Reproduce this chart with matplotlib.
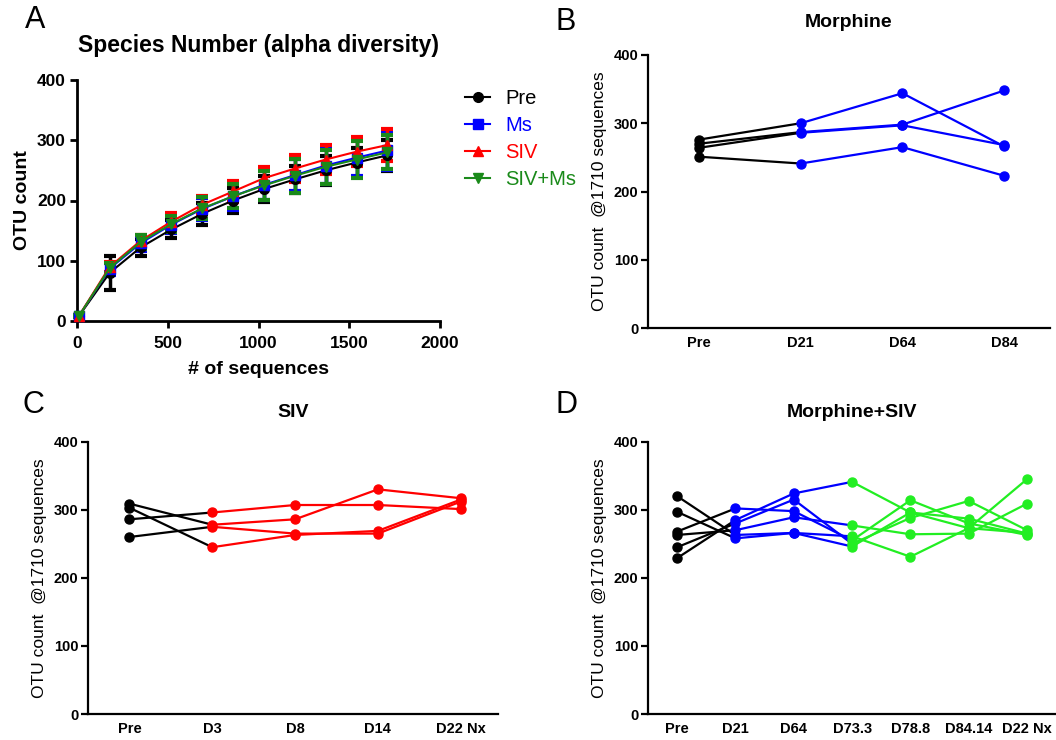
import matplotlib
matplotlib.use("Agg")
import matplotlib.pyplot as plt
from matplotlib.lines import Line2D
import numpy as np

plt.rcParams['font.family'] = ['Liberation Sans', 'DejaVu Sans']

# ---------- Panel A: rarefaction curves ----------
seq_depth = [10, 180, 350, 520, 690, 860, 1030, 1200, 1370, 1540, 1710]
group_names = ["Pre", "Ms", "SIV", "SIV+Ms"]
pre_mean = [8, 80, 122, 152, 178, 200, 219, 235, 250, 263, 275]
ms_mean = [8, 87, 129, 160, 186, 207, 226, 242, 258, 271, 283]
siv_mean = [8, 90, 133, 165, 193, 215, 237, 253, 268, 281, 292]
sivms_mean = [8, 88, 131, 161, 187, 207, 225, 241, 256, 268, 280]
pre_sd = [2, 28, 14, 15, 18, 20, 22, 22, 24, 24, 26]
ms_sd = [2, 10, 12, 14, 18, 22, 25, 27, 30, 30, 32]
siv_sd = [2, 8, 10, 14, 15, 18, 18, 22, 24, 24, 26]
sivms_sd = [2, 8, 12, 14, 18, 20, 24, 28, 28, 30, 28]

# ---------- Panel B: Morphine ----------
morph_days = ["Pre", "D21", "D64", "D84"]
morph_otu = [
    [276, 300, 344, 266],
    [270, 287, 298, 348],
    [264, 286, 297, 268],
    [251, 241, 265, 223],
]

# ---------- Panel C: SIV ----------
siv_days = ["Pre", "D3", "D8", "D14", "D22 Nx"]
siv_otu = [
    [309, 278, 286, 330, 317],
    [286, 296, 307, 307, 301],
    [260, 275, 265, 265, 312],
    [303, 245, 263, 269, 315],
]

# ---------- Panel D: Morphine+SIV ----------
msiv_days = ["Pre", "D21", "D64", "D73.3", "D78.8", "D84.14", "D22 Nx"]
msiv_otu = [
    [268, 302, 298, 255, 314, 280, 263],
    [229, 285, 324, 341, 296, 273, 266],
    [245, 280, 315, 250, 288, 313, 270],
    [263, 270, 289, 277, 264, 265, 309],
    [320, 263, 266, 261, 231, 273, 345],
    [297, 258, 266, 246, 296, 287, 265],
]

BLACK = "#000000"
BLUE = "#0000ff"
RED = "#ff0000"
DKGREEN = "#1a8a1a"
LTGREEN = "#22ee22"

fig = plt.figure(figsize=(10.56, 7.40), dpi=100)


def style_axes(ax, lw=1.6):
    for s in ("top", "right"):
        ax.spines[s].set_visible(False)
    for s in ("left", "bottom"):
        ax.spines[s].set_linewidth(lw)


# Panel A
axA = fig.add_axes([77 / 1056, 1 - 321 / 740, 363 / 1056, 241 / 740])
style_axes(axA, 2.0)
series = [
    (pre_mean, pre_sd, BLACK, "o"),
    (ms_mean, ms_sd, BLUE, "s"),
    (siv_mean, siv_sd, RED, "^"),
    (sivms_mean, sivms_sd, DKGREEN, "v"),
]
for (m, sd, c, mk), name in zip(series, group_names):
    axA.errorbar(seq_depth, m, yerr=sd, color=c, marker=mk, markersize=7,
                 linewidth=1.5, elinewidth=2.5, capsize=4, capthick=3,
                 clip_on=False, zorder=3)
axA.set_xlim(0, 2000)
axA.set_ylim(0, 400)
axA.set_xticks([0, 500, 1000, 1500, 2000])
axA.set_yticks([0, 100, 200, 300, 400])
axA.tick_params(direction="out", length=5, width=2, labelsize=12.5)
axA.tick_params(axis="x", pad=6)
axA.tick_params(axis="y", pad=3)
for lab in axA.get_xticklabels() + axA.get_yticklabels():
    lab.set_fontweight("bold")
axA.set_xlabel("# of sequences", fontsize=14, fontweight="bold", labelpad=7)
axA.set_ylabel("OTU count", fontsize=14, fontweight="bold", labelpad=4)
axA.set_title("Species Number (alpha diversity)", fontsize=16.5,
              fontweight="bold", pad=20)
handles = [Line2D([], [], color=c, marker=mk, markersize=7, linewidth=1.5)
           for (_, _, c, mk) in series]
leg = fig.legend(handles, group_names, loc="upper left",
                 bbox_to_anchor=(465 / 1056, 1 - 89 / 740),
                 bbox_transform=fig.transFigure, frameon=False,
                 fontsize=14.5, handlelength=1.25, borderpad=0,
                 borderaxespad=0, labelspacing=0.4, handletextpad=0.75)
for txt, (_, _, c, _) in zip(leg.get_texts(), series):
    txt.set_color(c)
fig.text(25 / 1056, 1 - 20 / 740, "A", fontsize=22, va="center", ha="left")


def paired_panel(ax, days, data, phases, title, title_pad):
    """phases: list of (start, end, color) index ranges for segment colouring."""
    x = np.arange(len(days))
    for row in data:
        for (a, b, c) in phases:
            ax.plot(x[a:b + 1], row[a:b + 1], color=c, linewidth=1.6, zorder=2)
    # each time point takes the colour of the latest phase that begins at or before it
    point_colors = []
    for i in range(len(days)):
        col = phases[0][2]
        for (a, b, c) in phases:
            if a <= i:
                col = c
        point_colors.append(col)
    for row in data:
        for i in range(len(days)):
            ax.plot(x[i], row[i], linestyle="none", marker="o",
                    markersize=6.5, color=point_colors[i], zorder=3)
    ax.set_xlim(-0.5, len(days) - 0.55)
    ax.set_ylim(0, 400)
    ax.set_yticks([0, 100, 200, 300, 400])
    ax.set_xticks(x)
    ax.set_xticklabels(days)
    style_axes(ax, 1.6)
    ax.tick_params(axis="y", direction="out", length=5, width=1.6,
                   labelsize=10.5, pad=2)
    ax.tick_params(axis="x", length=0, labelsize=10.5, pad=6)
    for lab in ax.get_xticklabels() + ax.get_yticklabels():
        lab.set_fontweight("bold")
    ax.set_ylabel("OTU count  @1710 sequences", fontsize=12.5, labelpad=5)
    ax.set_title(title, fontsize=14, fontweight="bold", pad=title_pad)


# Panel B
axB = fig.add_axes([648 / 1056, 1 - 328 / 740, 402 / 1056, 273 / 740])
paired_panel(axB, morph_days, morph_otu, [(0, 1, BLACK), (1, 3, BLUE)],
             "Morphine", 20)
fig.text(555 / 1056, 1 - 22 / 740, "B", fontsize=22, va="center", ha="left")

# Panel C
axC = fig.add_axes([88 / 1056, 1 - 714 / 740, 410 / 1056, 272.3 / 740])
paired_panel(axC, siv_days, siv_otu, [(0, 1, BLACK), (1, 4, RED)], "SIV", 18)
fig.text(22 / 1056, 1 - 405 / 740, "C", fontsize=22, va="center", ha="left")

# Panel D
axD = fig.add_axes([648 / 1056, 1 - 714 / 740, 407 / 1056, 272.3 / 740])
paired_panel(axD, msiv_days, msiv_otu,
             [(0, 1, BLACK), (1, 3, BLUE), (3, 6, LTGREEN)], "Morphine+SIV", 18)
axD.set_xlim(-0.5, 6.48)
fig.text(555 / 1056, 1 - 405 / 740, "D", fontsize=22, va="center", ha="left")

fig.savefig("out.png", dpi=100)
